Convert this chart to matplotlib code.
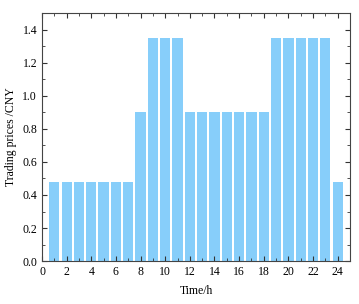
import matplotlib
matplotlib.use("Agg")
import matplotlib.pyplot as plt
from matplotlib.ticker import MultipleLocator

hours = list(range(1, 25))
prices = [0.48]*7 + [0.9] + [1.35]*3 + [0.9]*7 + [1.35]*5 + [0.48]

plt.rcParams['font.family'] = ['Liberation Serif', 'DejaVu Serif']
fig = plt.figure(figsize=(3.59, 3.04), dpi=100)
ax = fig.add_axes([0.117, 0.141, 0.858, 0.816])
ax.bar(hours, prices, width=0.83, color='#87CEFA')
ax.set_xlim(0, 25)
ax.set_ylim(0, 1.5)
ax.xaxis.set_major_locator(MultipleLocator(2))
ax.xaxis.set_minor_locator(MultipleLocator(1))
ax.yaxis.set_major_locator(MultipleLocator(0.2))
ax.yaxis.set_minor_locator(MultipleLocator(0.1))
ax.set_xticks(range(0, 25, 2))
ax.yaxis.set_major_formatter(plt.FuncFormatter(lambda v, p: f"{v:.1f}"))
ax.tick_params(which='both', direction='in', top=True, right=True, labelsize=8.5, color='#333333')
ax.tick_params(which='major', length=3.5)
ax.tick_params(which='minor', length=2)
for s in ax.spines.values():
    s.set_color('#444444')
ax.set_xlabel('Time/h', fontsize=8.5, labelpad=5)
ax.set_ylabel('Trading prices /CNY', fontsize=8.5)
fig.savefig('out.png', dpi=100)
